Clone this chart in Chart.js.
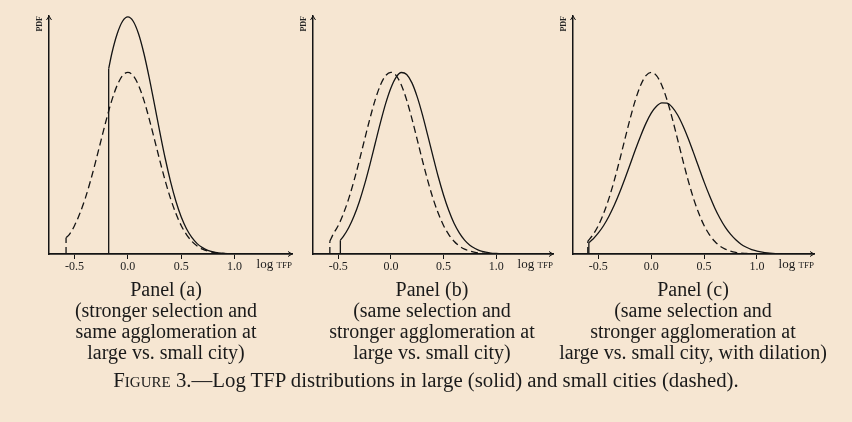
<!DOCTYPE html>
<html>
<head>
<meta charset="utf-8">
<script src="https://cdn.jsdelivr.net/npm/chart.js@4.4.1/dist/chart.umd.min.js"></script>
<style>
  body { margin: 0; background: #f6e6d2; }
  #wrap { position: relative; width: 852px; height: 422px; background: #f6e6d2; overflow: hidden; font-family: "Liberation Serif", serif; color: #1a1a1a; }
  canvas { position: absolute; top: 0; }
  .cap { position: absolute; top: 279px; width: 320px; text-align: center; font-size: 20px; line-height: 21px; white-space: nowrap; }
  .xl { position: absolute; top: 257px; font-size: 13px; line-height: 14px; white-space: nowrap; text-align: right; }
  .sc { font-variant: small-caps; }
  #fig { position: absolute; left: 0; width: 852px; top: 368px; text-align: center; font-size: 20.8px; line-height: 24px; }
</style>
</head>
<body>
<div id="wrap">
  <canvas id="ca" width="265" height="280" style="left:35px"></canvas>
  <canvas id="cb" width="262" height="280" style="left:299px"></canvas>
  <canvas id="cc" width="263" height="280" style="left:559px"></canvas>
  <div class="xl" style="left:252px;width:40px">log <span class="sc">tfp</span></div>
  <div class="xl" style="left:513px;width:40px">log <span class="sc">tfp</span></div>
  <div class="xl" style="left:774px;width:40px">log <span class="sc">tfp</span></div>
  <div class="cap" id="capa" style="left:6px"></div>
  <div class="cap" id="capb" style="left:272px"></div>
  <div class="cap" id="capc" style="left:533px"></div>
  <div id="fig"><span class="sc">Figure</span> 3.—Log TFP distributions in large (solid) and small cities (dashed).</div>
</div>
<script>
// axis ranges and ticks
const xRange = [-0.74, 1.54];
const yRange = [0, 1.31];
const xTicks = [-0.5, 0, 0.5, 1.0];

// panel captions
const captions = [
  ['Panel (a)', '(stronger selection and', 'same agglomeration at', 'large vs. small city)'],
  ['Panel (b)', '(same selection and', 'stronger agglomeration at', 'large vs. small city)'],
  ['Panel (c)', '(same selection and', 'stronger agglomeration at', 'large vs. small city, with dilation)']
];

// panel (a): large city truncated at -0.18
const aLargeEdge = [[-0.74, 0], [-0.18, 0], [-0.18, 1.02]];
const aLarge = [[-0.18, 1.02], [-0.15, 1.105], [-0.1, 1.212], [-0.05, 1.281], [0, 1.305], [0.05, 1.281], [0.1, 1.212],
  [0.15, 1.105], [0.2, 0.971], [0.25, 0.822], [0.3, 0.671], [0.35, 0.527], [0.4, 0.400], [0.45, 0.292], [0.5, 0.205],
  [0.55, 0.139], [0.6, 0.091], [0.65, 0.057], [0.7, 0.035], [0.75, 0.020], [0.8, 0.011], [0.85, 0.006], [0.9, 0.003],
  [0.95, 0.002], [1.0, 0.001], [1.1, 0], [1.54, 0]];
const aSmallEdge = [[-0.58, 0], [-0.58, 0.09]];
const aSmall = [[-0.58, 0.09], [-0.55, 0.107], [-0.5, 0.157], [-0.45, 0.224], [-0.4, 0.306], [-0.35, 0.404], [-0.3, 0.514],
  [-0.25, 0.630], [-0.2, 0.744], [-0.15, 0.847], [-0.1, 0.929], [-0.05, 0.982], [0, 1], [0.05, 0.982], [0.1, 0.929],
  [0.15, 0.847], [0.2, 0.744], [0.25, 0.630], [0.3, 0.514], [0.35, 0.404], [0.4, 0.306], [0.45, 0.224], [0.5, 0.157],
  [0.55, 0.107], [0.6, 0.070], [0.65, 0.044], [0.7, 0.027], [0.75, 0.016], [0.8, 0.009], [0.85, 0.005], [0.9, 0.003],
  [0.95, 0.001], [1.0, 0.001], [1.1, 0], [1.54, 0]];

// panel (b): large city shifted right, truncated at -0.48
const bLargeEdge = [[-0.74, 0], [-0.48, 0], [-0.48, 0.076]];
const bLarge = [[-0.48, 0.076], [-0.45, 0.098], [-0.4, 0.146], [-0.35, 0.209], [-0.3, 0.288], [-0.25, 0.383], [-0.2, 0.491],
  [-0.15, 0.607], [-0.1, 0.722], [-0.05, 0.828], [0, 0.914], [0.05, 0.974], [0.1, 0.999], [0.15, 0.988], [0.2, 0.942],
  [0.25, 0.865], [0.3, 0.766], [0.35, 0.653], [0.4, 0.537], [0.45, 0.425], [0.5, 0.325], [0.55, 0.239], [0.6, 0.169],
  [0.65, 0.116], [0.7, 0.076], [0.75, 0.048], [0.8, 0.030], [0.85, 0.017], [0.9, 0.010], [0.95, 0.005], [1.0, 0.003],
  [1.05, 0.0015], [1.1, 0.0007], [1.2, 0.0002], [1.3, 0], [1.54, 0]];
const bSmallEdge = [[-0.58, 0], [-0.58, 0.07]];
const bSmall = [[-0.58, 0.07], [-0.55, 0.107], [-0.5, 0.157], [-0.45, 0.224], [-0.4, 0.306], [-0.35, 0.404], [-0.3, 0.514],
  [-0.25, 0.630], [-0.2, 0.744], [-0.15, 0.847], [-0.1, 0.929], [-0.05, 0.982], [0, 1], [0.05, 0.982], [0.1, 0.929],
  [0.15, 0.847], [0.2, 0.744], [0.25, 0.630], [0.3, 0.514], [0.35, 0.404], [0.4, 0.306], [0.45, 0.224], [0.5, 0.157],
  [0.55, 0.107], [0.6, 0.070], [0.65, 0.044], [0.7, 0.027], [0.75, 0.016], [0.8, 0.009], [0.85, 0.005], [0.9, 0.003],
  [0.95, 0.001], [1.0, 0.001], [1.1, 0], [1.54, 0]];

// panel (c): large city shifted and dilated, truncated at -0.59
const cLargeEdge = [[-0.74, 0], [-0.59, 0], [-0.59, 0.063]];
const cLarge = [[-0.59, 0.063], [-0.55, 0.083], [-0.5, 0.116], [-0.45, 0.157], [-0.4, 0.208], [-0.35, 0.268], [-0.3, 0.337],
  [-0.25, 0.413], [-0.2, 0.493], [-0.15, 0.574], [-0.1, 0.650], [-0.05, 0.719], [0, 0.775], [0.05, 0.813], [0.1, 0.832],
  [0.15, 0.830], [0.2, 0.807], [0.25, 0.765], [0.3, 0.706], [0.35, 0.636], [0.4, 0.558], [0.45, 0.477], [0.5, 0.397],
  [0.55, 0.323], [0.6, 0.255], [0.65, 0.197], [0.7, 0.148], [0.75, 0.109], [0.8, 0.078], [0.85, 0.054], [0.9, 0.037],
  [0.95, 0.024], [1.0, 0.016], [1.05, 0.010], [1.1, 0.006], [1.15, 0.0036], [1.2, 0.0021], [1.3, 0.0007], [1.4, 0.0002],
  [1.5, 0], [1.54, 0]];
const cSmallEdge = [[-0.6, 0], [-0.6, 0.07]];
const cSmall = [[-0.6, 0.07], [-0.55, 0.107], [-0.5, 0.157], [-0.45, 0.224], [-0.4, 0.306], [-0.35, 0.404], [-0.3, 0.514],
  [-0.25, 0.630], [-0.2, 0.744], [-0.15, 0.847], [-0.1, 0.929], [-0.05, 0.982], [0, 1], [0.05, 0.982], [0.1, 0.929],
  [0.15, 0.847], [0.2, 0.744], [0.25, 0.630], [0.3, 0.514], [0.35, 0.404], [0.4, 0.306], [0.45, 0.224], [0.5, 0.157],
  [0.55, 0.107], [0.6, 0.070], [0.65, 0.044], [0.7, 0.027], [0.75, 0.016], [0.8, 0.009], [0.85, 0.005], [0.9, 0.003],
  [0.95, 0.001], [1.0, 0.001], [1.1, 0], [1.54, 0]];

const ink = '#141414';
const dash = [7, 4];

// little arrow heads at the end of both axes
const arrows = {
  id: 'arrows',
  afterDraw(chart) {
    const { ctx, chartArea: { left, right, top, bottom } } = chart;
    ctx.save();
    ctx.strokeStyle = ink;
    ctx.lineWidth = 1;
    ctx.beginPath();
    ctx.moveTo(left - 2.5, top + 4);
    ctx.lineTo(left, top);
    ctx.lineTo(left + 2.5, top + 4);
    ctx.moveTo(right - 4, bottom - 2.5);
    ctx.lineTo(right, bottom);
    ctx.lineTo(right - 4, bottom + 2.5);
    ctx.stroke();
    ctx.restore();
  }
};

function line(data, dashed, smooth) {
  return {
    data: data,
    borderColor: ink,
    borderWidth: 1.3,
    borderDash: dashed ? dash : [],
    pointRadius: 0,
    fill: false,
    tension: 0,
    cubicInterpolationMode: smooth ? 'monotone' : 'default'
  };
}

function drawPanel(id, largeEdge, large, smallEdge, small) {
  new Chart(document.getElementById(id), {
    type: 'line',
    data: {
      datasets: [
        line(smallEdge, true, false),
        line(small, true, true),
        line(largeEdge, false, false),
        line(large, false, true)
      ]
    },
    options: {
      responsive: false,
      animation: false,
      layout: { padding: { top: 16, right: 8, left: 0, bottom: 0 } },
      plugins: { legend: { display: false }, tooltip: { enabled: false } },
      scales: {
        x: {
          type: 'linear',
          min: xRange[0],
          max: xRange[1],
          afterBuildTicks: s => { s.ticks = xTicks.map(v => ({ value: v })); },
          afterFit: s => { s.height = 26; },
          grid: { display: true, drawOnChartArea: false, drawTicks: true, tickLength: 5, color: ink, lineWidth: 1 },
          border: { display: true, color: ink, width: 1.8 },
          ticks: {
            padding: 1,
            color: '#222',
            font: { family: 'Liberation Serif', size: 12 },
            callback: v => v.toFixed(1),
            maxRotation: 0
          }
        },
        y: {
          min: yRange[0],
          max: yRange[1],
          afterFit: s => { s.width = 14; },
          grid: { display: false, drawTicks: false },
          border: { display: true, color: ink, width: 1.5 },
          ticks: { display: false },
          title: {
            display: true,
            text: 'PDF',
            align: 'end',
            padding: 0,
            color: '#222',
            font: { family: 'Liberation Serif', size: 8, weight: 'bold' }
          }
        }
      }
    },
    plugins: [arrows]
  });
}

drawPanel('ca', aLargeEdge, aLarge, aSmallEdge, aSmall);
drawPanel('cb', bLargeEdge, bLarge, bSmallEdge, bSmall);
drawPanel('cc', cLargeEdge, cLarge, cSmallEdge, cSmall);

['capa', 'capb', 'capc'].forEach((id, i) => {
  document.getElementById(id).innerHTML = captions[i].join('<br>');
});
</script>
</body>
</html>
